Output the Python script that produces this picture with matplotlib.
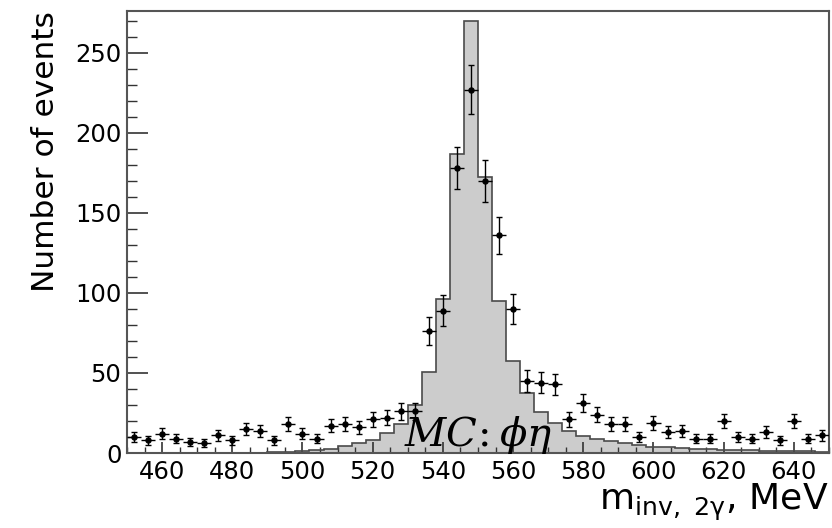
import numpy as np
import matplotlib
matplotlib.use("Agg")
import matplotlib.pyplot as plt
from matplotlib.ticker import MultipleLocator

# bins of 4 MeV from 450 to 650
edges = np.arange(450, 651, 4)
centers = 0.5 * (edges[:-1] + edges[1:])

data_counts = [10, 8, 12, 9, 7, 6, 11, 8, 15, 14,
               8, 18, 12, 9, 17, 18, 16, 21, 22, 26,
               26, 76, 89, 178, 227, 170, 136, 90, 45, 44,
               43, 21, 31, 24, 18, 18, 10, 19, 13, 14,
               9, 9, 20, 10, 9, 13, 8, 20, 9, 11]

# MC phi -> eta gamma shape, normalised
mc_counts = [0.1, 0.1, 0.1, 0.1, 0.1, 0.2, 0.2, 0.2, 0.3, 0.3,
             0.4, 0.6, 1.1, 1.9, 2.7, 4.4, 6.0, 8.2, 12.7, 18.0,
             30.0, 50.8, 96.0, 187.0, 270.0, 172.5, 95.0, 57.5, 37.3, 25.8,
             18.5, 13.7, 10.8, 8.5, 7.5, 6.0, 4.8, 4.0, 3.5, 3.0,
             2.6, 2.3, 2.0, 1.8, 1.6, 1.4, 1.2, 1.1, 1.0, 0.9]

data_counts = np.array(data_counts, dtype=float)
mc_counts = np.array(mc_counts)

plt.rcParams["mathtext.fontset"] = "dejavusans"

fig = plt.figure(figsize=(8.32, 5.28), dpi=100)
ax = fig.add_axes([0.1526, 0.142, 0.8438, 0.837])

ax.stairs(mc_counts, edges, fill=True, color="#cccccc", zorder=1)
ax.stairs(mc_counts, edges, color="#4a4a4a", lw=1.2, zorder=2)

ax.errorbar(centers, data_counts, yerr=np.sqrt(data_counts), fmt="none",
            ecolor="black", elinewidth=1, capsize=2, capthick=1, zorder=3)
ax.errorbar(centers, data_counts, xerr=2, fmt="o", color="black", ms=3.6,
            elinewidth=1, capsize=0, zorder=4)

ax.text(529, 4.4, r"$MC\!:\phi\eta$", fontsize=29, math_fontfamily="dejavuserif",
        ha="left", va="baseline", zorder=5)

ax.set_xlim(450, 650)
ax.set_ylim(0, 276)
ax.xaxis.set_major_locator(MultipleLocator(20))
ax.xaxis.set_minor_locator(MultipleLocator(5))
ax.yaxis.set_major_locator(MultipleLocator(50))
ax.yaxis.set_minor_locator(MultipleLocator(10))
ax.set_xticks(np.arange(460, 641, 20))

ax.tick_params(axis="both", which="both", direction="in", colors="#333333",
               labelcolor="black", labelsize=17.5, top=False, right=False)
ax.tick_params(axis="x", which="major", length=8, width=1.2, pad=5)
ax.tick_params(axis="x", which="minor", length=4.5, width=1)
ax.tick_params(axis="y", which="major", length=15, width=1.2, pad=4)
ax.tick_params(axis="y", which="minor", length=7.5, width=1)

for sp in ax.spines.values():
    sp.set_color("#555555")
    sp.set_linewidth(1.5)

ax.set_xlabel(r"m$_{\mathregular{inv,\ 2γ}}$, MeV", fontsize=26, loc="right")
ax.xaxis.set_label_coords(1.0, -0.065)
ax.xaxis.label.set_va("top")
ax.set_ylabel("Number of events", fontsize=22.5, loc="top")
ax.yaxis.set_label_coords(-0.095, 1.0)

fig.savefig("out.png", dpi=100)
